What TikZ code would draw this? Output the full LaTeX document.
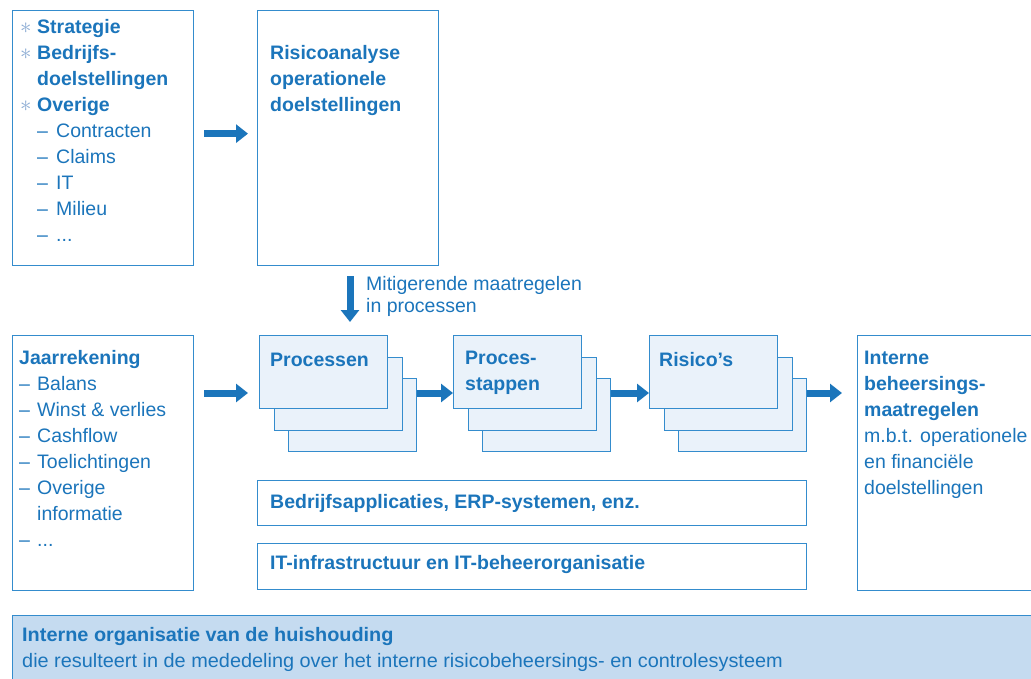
\documentclass[tikz,border=0pt]{standalone}
\usepackage{fontspec}
\setmainfont{Liberation Sans}
\newfontfamily\bandfont[FakeStretch=1.02]{Liberation Sans}
\usepackage{xcolor}
\usetikzlibrary{positioning, arrows.meta}

\definecolor{tekstblauw}{RGB}{27,117,187}
\definecolor{randblauw}{RGB}{52,140,205}
\definecolor{vlakblauw}{RGB}{234,242,250}
\definecolor{bandblauw}{RGB}{197,219,240}
\definecolor{sterblauw}{RGB}{140,172,212}
\newcommand{\ster}{\makebox[16pt][l]{\hspace*{-1pt}\textcolor{sterblauw}{\scalebox{1.1}{$\ast$}}}}
\newcommand{\streep}[1]{\makebox[#1][l]{--}}

\begin{document}
\begin{tikzpicture}[x=1pt, y=-1pt,
every node/.style={text=tekstblauw, font=\fontsize{19.5}{26}\selectfont},
doos/.style={draw=randblauw, line width=1.3pt, fill=white, inner sep=0, anchor=north west},
kaart/.style={doos, fill=vlakblauw, minimum width=128, minimum height=73},
tekst/.style={inner sep=0, anchor=north west, align=left},
pijl/.style={draw=tekstblauw, line width=7pt, -{Triangle[length=12pt,width=18pt]}}]

\useasboundingbox (0,0) rectangle (1031,679);

\node[doos, minimum width=181, minimum height=255] (doel) at (12,10) {};
\node[doos, minimum width=181, minimum height=255] (risico) at (257,10) {};
\node[doos, minimum width=181, minimum height=255] (jaar) at (12,335) {};
\node[doos, minimum width=195, minimum height=255] (intern) at (857,335) {};
\node[doos, minimum width=549, minimum height=45] (erp) at (257,480) {};
\node[doos, minimum width=549, minimum height=46] (infra) at (257,543) {};
\node[doos, fill=bandblauw, minimum width=1040, minimum height=80] (band) at (12,615) {};

\foreach \n/\x in {proc/259, stap/453, ris/649}
  \foreach \k in {2,1,0}
    \node[kaart] (\n\k) at (\x+14.5*\k, 335+21.5*\k) {};

\node[tekst] (doeltxt) at (21,14.8) {\strut\ster\textbf{Strategie}\\
\ster\textbf{Bedrijfs-}\\
\hspace*{16pt}\textbf{doelstellingen}\\
\ster\textbf{Overige}\\
\hspace*{16pt}\streep{19pt}Contracten\\
\hspace*{16pt}\streep{19pt}Claims\\
\hspace*{16pt}\streep{19pt}IT\\
\hspace*{16pt}\streep{19pt}Milieu\\
\hspace*{16pt}\streep{19pt}...};

\node[tekst] (risicotxt) at (270,40.8) {\strut\textbf{Risicoanalyse}\\
\textbf{operationele}\\
\textbf{doelstellingen}};

\node[tekst] (jaartxt) at (19,345.8) {\strut\textbf{Jaarrekening}\\
\streep{18pt}Balans\\
\streep{18pt}Winst \& verlies\\
\streep{18pt}Cashflow\\
\streep{18pt}Toelichtingen\\
\streep{18pt}Overige\\
\hspace*{18pt}informatie\\
\streep{18pt}...};

\node[tekst] at (270,347.8) {\strut\textbf{Processen}};
\node[tekst] at (465,345.8) {\strut\textbf{Proces-}\\ \textbf{stappen}};
\node[tekst] at (659,347.8) {\strut\textbf{Risico’s}};

\node[tekst] (interntxt) at (864,345.8) {\strut\textbf{Interne}\\
\textbf{beheersings-}\\
\textbf{maatregelen}\\
m.b.t. operationele\\
en financiële\\
doelstellingen};

\node[tekst] at (270,489.8) {\strut\textbf{Bedrijfsapplicaties, ERP-systemen, enz.}};
\node[tekst] at (270,550.8) {\strut\textbf{IT-infrastructuur en IT-beheerorganisatie}};

\node[tekst] (bandtxt) at (22,622.8) {\strut\bandfont\bfseries Interne organisatie van de huishouding\\
\bandfont die resulteert in de mededeling over het interne risicobeheersings- en controlesysteem};

\node[tekst, font=\fontsize{19.5}{22}\selectfont] (mitig) at (366,274.8) {\strut Mitigerende maatregelen\\ in processen};

\coordinate (a1) at ([yshift=-15pt]proc2.north east);
\draw[pijl] ([xshift=10pt, yshift=4.5pt]doel.east) -- ([xshift=-9pt, yshift=4.5pt]risico.west);
\draw[pijl] ([xshift=10pt]a1 -| jaar.east) -- ([xshift=-11pt]a1 -| proc0.west);
\draw[pijl] (a1) -- (a1 -| stap0.west);
\draw[pijl] (a1 -| stap2.east) -- (a1 -| ris0.west);
\draw[pijl] (a1 -| ris2.east) -- ([xshift=-15pt]a1 -| intern.west);
\draw[pijl] ([yshift=-10pt]risico.south -| 350,0) -- ([yshift=13pt]proc0.north -| 350,0);
\end{tikzpicture}
\end{document}
